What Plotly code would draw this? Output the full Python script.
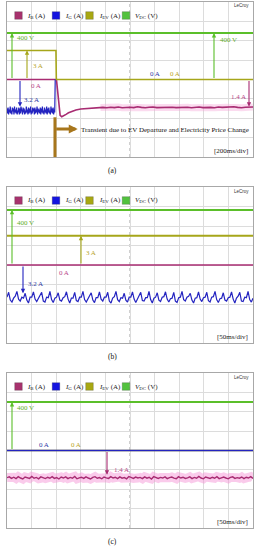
import numpy as np
import plotly.graph_objects as go

# ---------------- data ----------------
# Panel (a): 200 ms/div, 2 s record (EV departure + price change)
a_vdc_t = [0, 400, 430, 470, 520, 2000]
a_vdc = [400, 400, 397, 398, 400, 400]
a_iev_t = [0, 398, 401, 2000]
a_iev = [3.0, 3.0, 0.0, 0.0]
a_ig_band = [-3.0, -3.5, -2.9, -3.6, -3.1, -3.4, -2.8, -3.5, -3.2, -3.6, -2.9, -3.3, -3.0, -3.6, -2.8,
             -3.4, -3.1, -3.5, -2.9, -3.6, -3.2, -3.4, -2.9, -3.6, -3.0, -3.5, -2.8, -3.3, -3.1, -3.6,
             -2.9, -3.4, -3.0, -3.6, -3.2, -3.5, -2.8, -3.4, -3.1, -3.6, -2.9, -3.5, -3.0, -3.4, -2.8,
             -3.6, -3.2, -3.5, -2.9, -3.3, -3.0, -3.6, -2.9, -3.5, -3.1, -3.4, -2.8, -3.6, -3.0, -3.4,
             -3.1, -3.5, -2.9, -3.6, -3.0, -3.4, -2.8, -3.5, -3.2, -3.6, -2.9, -3.4, -3.1, -3.5, -2.8,
             -3.6, -3.0, -3.4, -2.9, -3.5, -3.2, -3.6, -2.8, -3.4, -3.0, -3.5, -2.9, -3.6, -3.1, -3.4]
a_ig_after_t = [392, 2000]
a_ig_after = [0.0, 0.0]
a_ib_t = [0, 402, 410, 420, 432, 445, 460, 480, 500, 530, 560, 600, 650, 700, 760]
a_ib = [0, 0, -0.5, -1.3, -1.85, -1.92, -1.88, -1.80, -1.72, -1.63, -1.57, -1.52, -1.49, -1.47, -1.45]
a_ib_tail = [-1.44, -1.46, -1.43, -1.45, -1.42, -1.46, -1.44, -1.43, -1.45, -1.41, -1.44, -1.46, -1.43,
             -1.42, -1.45, -1.44, -1.46, -1.42, -1.43, -1.45, -1.44, -1.41, -1.43, -1.46, -1.44, -1.42,
             -1.45, -1.43, -1.44, -1.46, -1.42, -1.44, -1.43, -1.45, -1.41, -1.44, -1.46, -1.43, -1.44, -1.42]

# Panel (b): 50 ms/div, steady state with EV charging
b_t = [0, 500]
b_vdc = [400, 400]
b_iev = [3.0, 3.0]
b_ib = [0.0, 0.0]
b_ig_ripple = [-3.30, -2.80, -3.60, -3.80, -3.40, -3.20, -2.70, -3.50, -3.70, -3.30,
               -3.40, -2.90, -3.60, -3.90, -3.30, -3.30, -2.75, -3.50, -3.75, -3.45,
               -3.20, -2.80, -3.70, -3.80, -3.30, -3.35, -2.70, -3.55, -3.85, -3.40,
               -3.30, -2.85, -3.60, -3.70, -3.35, -3.25, -2.75, -3.50, -3.90, -3.40,
               -3.40, -2.80, -3.65, -3.75, -3.30, -3.30, -2.70, -3.55, -3.80, -3.45,
               -3.20, -2.85, -3.60, -3.85, -3.35, -3.35, -2.75, -3.50, -3.70, -3.30,
               -3.30, -2.80, -3.70, -3.90, -3.40, -3.25, -2.70, -3.55, -3.75, -3.35,
               -3.40, -2.90, -3.60, -3.80, -3.30, -3.30, -2.75, -3.50, -3.85, -3.45,
               -3.20, -2.80, -3.65, -3.70, -3.35, -3.35, -2.70, -3.55, -3.90, -3.40,
               -3.30, -2.85, -3.60, -3.75, -3.30, -3.25, -2.75, -3.50, -3.80, -3.45,
               -3.40, -2.80, -3.70, -3.85, -3.35, -3.30, -2.70, -3.55, -3.70, -3.30,
               -3.20, -2.90, -3.60, -3.90, -3.40, -3.35, -2.75, -3.50, -3.75, -3.35,
               -3.30, -2.80, -3.65, -3.80, -3.30, -3.25, -2.70, -3.55, -3.85, -3.45,
               -3.40, -2.85, -3.60, -3.70, -3.35, -3.30, -2.75, -3.50, -3.90, -3.40,
               -3.20, -2.80, -3.70, -3.75, -3.30, -3.35, -2.70, -3.55, -3.80, -3.40]

# Panel (c): 50 ms/div, steady state without EV
c_t = [0, 500]
c_vdc = [400, 400]
c_ig = [0.0, 0.0]
c_iev = [0.0, 0.0]
c_ib_noise = [-1.40, -1.36, -1.44, -1.38, -1.45, -1.35, -1.42, -1.47, -1.37, -1.41,
              -1.44, -1.34, -1.43, -1.39, -1.46, -1.36, -1.41, -1.45, -1.38, -1.43,
              -1.35, -1.44, -1.40, -1.47, -1.37, -1.42, -1.36, -1.45, -1.39, -1.43,
              -1.34, -1.46, -1.41, -1.38, -1.44, -1.36, -1.42, -1.47, -1.39, -1.35,
              -1.43, -1.40, -1.46, -1.37, -1.41, -1.44, -1.35, -1.42, -1.38, -1.45,
              -1.36, -1.43, -1.40, -1.46, -1.34, -1.41, -1.44, -1.37, -1.42, -1.39,
              -1.45, -1.36, -1.43, -1.38, -1.47, -1.35, -1.41, -1.44, -1.39, -1.42,
              -1.36, -1.45, -1.40, -1.37, -1.43, -1.46, -1.35, -1.42, -1.38, -1.44,
              -1.41, -1.36, -1.45, -1.39, -1.43, -1.34, -1.42, -1.46, -1.37, -1.40,
              -1.44, -1.38, -1.43, -1.35, -1.45, -1.41, -1.37, -1.42, -1.46, -1.39,
              -1.36, -1.44, -1.40, -1.43, -1.37, -1.45, -1.38, -1.42, -1.35, -1.44]

legend_labels = ["<i>I</i><sub>B</sub> (A)", "<i>I</i><sub>G</sub> (A)",
                 "<i>I</i><sub>EV</sub> (A)", "<i>V</i><sub>DC</sub> (V)"]
panel_names = ["(a)", "(b)", "(c)"]
time_scales = ["[200ms/div]", "[50ms/div]", "[50ms/div]"]

# ---------------- style ----------------
W, H = 257, 550
PINK, BLUE, OLIVE, GREEN = "#A82C72", "#2424C0", "#A6A61A", "#5BBF2A"
SW_COLORS = ["#A8326E", "#1414E0", "#A8A812", "#52C23E"]
TXT = dict(pink="#B8468A", blue="#2E3AA6", olive="#B8A428", green="#64AE2A")
SERIF = "Liberation Serif"
BROWN = "#A7761C"

LEFT, RIGHT = 7, 253
panels = [dict(top=2, bottom=157, tmax=2000, vr=667),
          dict(top=187, bottom=343, tmax=500, vr=567),
          dict(top=373, bottom=528, tmax=500, vr=640)]

fig = go.Figure()
layout = dict(width=W, height=H, margin=dict(l=0, r=0, t=0, b=0),
              paper_bgcolor="white", plot_bgcolor="white", showlegend=False)
shapes, annotations = [], []


def ax_names(i):
    xs = "x" if i == 0 else f"x{i + 1}"
    yb, yi, yv = [("y" if k == 1 else f"y{k}") for k in (3 * i + 1, 3 * i + 2, 3 * i + 3)]
    return xs, yb, yi, yv


def lname(a):
    return a[0] + "axis" + a[1:]


for i, p in enumerate(panels):
    xs, yb, yi, yv = ax_names(i)
    dom_y = [1 - p["bottom"] / H, 1 - p["top"] / H]
    layout[lname(xs)] = dict(domain=[LEFT / W, RIGHT / W], range=[0, p["tmax"]], dtick=p["tmax"] / 10,
                             showgrid=True, gridcolor="#dcdcdc", gridwidth=1, zeroline=False,
                             showticklabels=False, ticks="", showline=True, mirror=True,
                             linecolor="#a8a8a8", linewidth=1, anchor=yb, fixedrange=True)
    layout[lname(yb)] = dict(domain=dom_y, range=[-4, 4], dtick=1, showgrid=True, gridcolor="#dcdcdc",
                             gridwidth=1, zeroline=False, showticklabels=False, ticks="",
                             showline=True, mirror=True, linecolor="#a8a8a8", linewidth=1, anchor=xs)
    layout[lname(yi)] = dict(overlaying=yb, range=[-8, 8], showgrid=False, zeroline=False,
                             showticklabels=False, ticks="", anchor=xs, visible=False)
    layout[lname(yv)] = dict(overlaying=yb, range=[-p["vr"], p["vr"]], showgrid=False, zeroline=False,
                             showticklabels=False, ticks="", anchor=xs, visible=False)
    # dashed centre graticule line
    shapes.append(dict(type="line", xref=xs, yref=yb, x0=p["tmax"] / 2, x1=p["tmax"] / 2, y0=-4, y1=4,
                       line=dict(color="#a0a0a0", width=1, dash="dot"), layer="below"))


def trace(x, y, axes, color, width=1.4, opacity=1.0):
    fig.add_trace(go.Scatter(x=x, y=y, mode="lines", xaxis=axes[0], yaxis=axes[1],
                             line=dict(color=color, width=width), opacity=opacity,
                             hoverinfo="skip"))


# ---- panel (a)
xs, yb, yi, yv = ax_names(0)
a_ig_t = list(np.linspace(0, 388, len(a_ig_band)))
a_ib_tail_t = list(np.linspace(780, 2000, len(a_ib_tail)))
trace(a_ib_t[-1:] + a_ib_tail_t, a_ib[-1:] + a_ib_tail, (xs, yb), "rgba(245,165,215,0.4)", width=7)
trace(a_ig_t + a_ig_after_t, a_ig_band + a_ig_after, (xs, yi), BLUE, width=1.2)
trace(a_iev_t, a_iev, (xs, yi), OLIVE, width=1.6)
trace(a_ib_t + a_ib_tail_t, a_ib + a_ib_tail, (xs, yb), PINK, width=1.6)
trace(a_vdc_t, a_vdc, (xs, yv), GREEN, width=2)

# ---- panel (b)
xs, yb, yi, yv = ax_names(1)
b_ig_t = list(np.linspace(0, 500, len(b_ig_ripple)))
trace(b_ig_t, b_ig_ripple, (xs, yi), BLUE, width=1.2)
trace(b_t, b_iev, (xs, yi), OLIVE, width=2)
trace(b_t, b_ib, (xs, yb), PINK, width=1.6)
trace(b_t, b_vdc, (xs, yv), GREEN, width=2)

# ---- panel (c)
xs, yb, yi, yv = ax_names(2)
c_ib_t = list(np.linspace(0, 500, len(c_ib_noise)))
trace(c_ib_t, c_ib_noise, (xs, yb), "rgba(245,140,210,0.45)", width=9)
trace(c_t, c_iev, (xs, yi), OLIVE, width=1.4)
trace(c_t, c_ig, (xs, yi), BLUE, width=1.4)
trace(c_ib_t, c_ib_noise, (xs, yb), PINK, width=1.4)
trace(c_t, c_vdc, (xs, yv), GREEN, width=2)


# ---------------- annotations ----------------
def label(text, x, y, color, size=7, xanchor="left", family=SERIF):
    annotations.append(dict(text=text, x=x / W, y=1 - y / H, xref="paper", yref="paper",
                            showarrow=False, xanchor=xanchor, yanchor="middle",
                            font=dict(family=family, size=size, color=color)))


def arrow(i, xpx, head, axis, color, width=1.1):
    p = panels[i]
    xs = ax_names(i)[0]
    t = (xpx - LEFT) / (RIGHT - LEFT) * p["tmax"]
    annotations.append(dict(text="", x=t, y=head, ax=t, ay=0, xref=xs, yref=axis, axref=xs, ayref=axis,
                            showarrow=True, arrowhead=2, arrowsize=0.8, arrowwidth=width,
                            arrowcolor=color))


for i, p in enumerate(panels):
    ly = p["top"] + 13.5
    for cx, col, tx, lab in zip([18.5, 56, 89.5, 126], SW_COLORS, [25, 63, 97, 133], legend_labels):
        shapes.append(dict(type="rect", xref="paper", yref="paper", x0=(cx - 3.8) / W, x1=(cx + 3.8) / W,
                           y0=1 - (ly + 3.8) / H, y1=1 - (ly - 3.8) / H, fillcolor=col,
                           line=dict(color="rgba(60,60,60,0.5)", width=0.5)))
        label(lab, tx, ly, "#222222", size=7)
    label("LeCroy", 251, p["top"] + 4, "#333333", size=4.5, xanchor="right", family="Liberation Sans")
    label(time_scales[i], 250, p["bottom"] - 6.5, "#222222", size=7, xanchor="right")
    label(panel_names[i], 112.5, p["bottom"] + 13, "#111111", size=7.5, xanchor="center")

# panel (a) arrows and labels
_, yb, yi, yv = ax_names(0)
arrow(0, 12, 400, yv, GREEN)
arrow(0, 214, 400, yv, GREEN)
arrow(0, 27, 3.0, yi, OLIVE)
arrow(0, 20, -2.8, yi, BLUE)
arrow(0, 249, -1.4, yb, PINK)
label("400 V", 15, 38, TXT["green"])
label("400 V", 218, 40, TXT["green"])
label("3 A", 31, 66, TXT["olive"])
label("0 A", 29, 86, TXT["pink"])
label("3.2 A", 22, 100, TXT["blue"])
label("0 A", 148, 74, TXT["blue"])
label("0 A", 168, 74, TXT["olive"])
label("1.4 A", 248, 97, TXT["pink"], xanchor="right")
label("Transient due to EV Departure and Electricity Price Change", 79, 130, "#111111", size=7)
shapes.append(dict(type="line", xref="x", yref="y", x0=390, x1=390, y0=-1.95, y1=-4,
                   line=dict(color=BROWN, width=3)))
annotations.append(dict(text="", x=575, y=-2.55, ax=388, ay=-2.55, xref="x", yref="y", axref="x",
                        ayref="y", showarrow=True, arrowhead=2, arrowsize=0.6, arrowwidth=3,
                        arrowcolor=BROWN))

# panel (b)
_, yb, yi, yv = ax_names(1)
arrow(1, 12, 400, yv, GREEN)
arrow(1, 81, 3.0, yi, OLIVE)
arrow(1, 23, -2.9, yi, BLUE)
label("400 V", 15, 223, TXT["green"])
label("3 A", 84, 253, TXT["olive"])
label("0 A", 57, 273, TXT["pink"])
label("3.2 A", 26, 284, TXT["blue"])

# panel (c)
_, yb, yi, yv = ax_names(2)
arrow(2, 12, 400, yv, GREEN)
arrow(2, 107, -1.25, yb, PINK)
label("400 V", 15, 408, TXT["green"])
label("0 A", 37, 445, TXT["blue"])
label("0 A", 69, 445, TXT["olive"])
label("1.4 A", 112, 470, TXT["pink"])

layout["shapes"] = shapes
layout["annotations"] = annotations
fig.update_layout(**layout)
fig.write_html("out.html", config={"displayModeBar": False},
               post_script="document.body.style.margin='0';document.body.style.overflow='hidden';")
